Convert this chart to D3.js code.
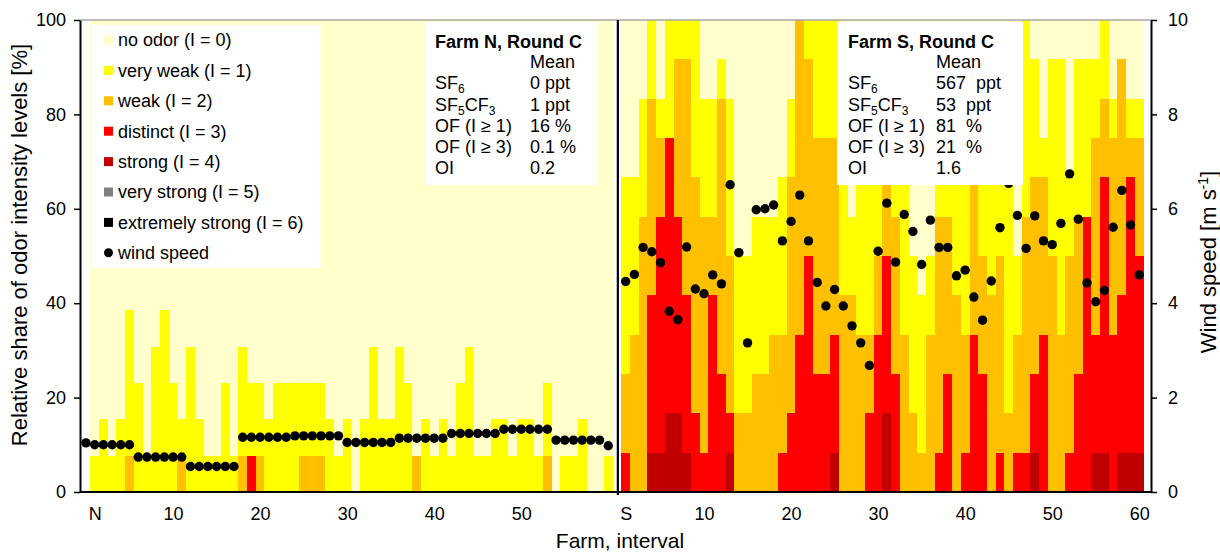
<!DOCTYPE html>
<html><head><meta charset="utf-8">
<script src="https://cdn.jsdelivr.net/npm/d3@7"></script>
<style>
body{margin:0;background:#fff}
svg{display:block}
text{font-family:"Liberation Sans",Arial,sans-serif;fill:#000}
</style>
</head><body>
<svg id="chart" width="1220" height="553"></svg>
<script>
// ---------- data ----------
const levelKeys   = ["extreme","veryStrong","strong","distinct","weak","veryWeak","none"];
const legendLabels = ["no odor (I = 0)","very weak (I = 1)","weak (I = 2)","distinct (I = 3)","strong (I = 4)","very strong (I = 5)","extremely strong (I = 6)"];
const legendColors = ["#FFFFCC","#FFFF00","#FFC000","#FF0000","#C00000","#808080","#000000"];
const levelColor = {none:"#FFFFCC",veryWeak:"#FFFF00",weak:"#FFC000",distinct:"#FF0000",strong:"#C00000",veryStrong:"#808080",extreme:"#000000"};

// Farm N, 13 observations per interval, intervals 1..60 (counts of panel answers)
const nTotal = 13;
const nVeryWeak = [1,2,1,2,4,3,1,4,5,3, 1,4,2,1,1,3,1,3,2,2, 2,3,3,3,2,2,2,2,1,2, 0,2,4,2,2,4,3,0,2,1, 2,1,3,4,1,1,2,2,1,2, 2,1,2,0,1,1,2,0,0,1];
const nWeak     = [0,0,0,0,1,0,0,0,0,0, 1,0,0,0,0,0,0,1,0,1, 0,0,0,0,1,1,1,0,0,0, 0,0,0,0,0,0,0,1,0,0, 0,0,0,0,0,0,0,0,0,0, 0,0,1,0,0,0,0,0,0,0];
const nDistinct = [0,0,0,0,0,0,0,0,0,0, 0,0,0,0,0,0,0,0,1,0, 0,0,0,0,0,0,0,0,0,0, 0,0,0,0,0,0,0,0,0,0, 0,0,0,0,0,0,0,0,0,0, 0,0,0,0,0,0,0,0,0,0];
// Farm N wind speed, intervals 0..60 [m/s]
const nWind = [1.04,1.00,1.00,1.00,1.00,1.00, 0.74,0.74,0.74,0.74,0.74,0.74, 0.54,0.54,0.54,0.54,0.54,0.54,
               1.16,1.16,1.16,1.16,1.16,1.16, 1.19,1.19,1.19,1.19,1.19,1.19, 1.05,1.05,1.05,1.05,1.05,1.05,
               1.14,1.14,1.14,1.14,1.14,1.14, 1.24,1.24,1.24,1.24,1.24,1.24, 1.33,1.33,1.33,1.33,1.33,1.33,
               1.10,1.10,1.10,1.10,1.10,1.10, 0.98];

// Farm S, 12 observations per interval, intervals 1..60
const sTotal = 12;
const sStrong   = [0,0,0,1,1,2,2,1,0,0, 0,0,1,0,0,0,0,0,0,0, 0,0,0,0,1,0,0,0,0,0, 2,0,0,0,0,0,0,0,0,0, 0,0,0,0,0,0,0,1,0,0, 0,0,0,0,1,1,0,1,1,1];
const sDistinct = [1,0,0,4,6,7,5,4,2,1, 5,3,1,0,0,0,0,0,1,2, 4,6,3,3,3,0,0,0,2,4, 4,3,0,0,0,0,1,3,0,1, 4,3,0,1,0,1,1,2,4,0, 0,1,3,7,3,7,4,4,7,5];
const sWeak     = [2,4,7,5,2,0,4,6,6,6, 2,7,4,2,2,3,3,4,3,6, 8,5,6,6,5,5,5,4,2,2, 2,4,4,2,1,4,6,4,5,3, 4,3,5,5,2,3,6,5,4,6, 4,5,4,0,5,2,5,6,1,3];
const sVeryWeak = [5,4,3,2,1,3,1,1,4,3, 3,1,4,4,4,4,4,3,4,2, 0,1,3,3,3,5,2,5,5,3, 2,2,5,4,4,2,2,2,4,4, 2,3,5,3,6,2,5,3,1,5, 7,2,4,4,2,2,1,0,1,1];
const sWind = [4.46,4.61,5.18,5.09,4.86,3.83,3.65,5.19,4.30,4.20, 4.60,4.41,6.51,5.07,3.16,5.98,6.00,6.08,5.32,5.73,
               6.29,5.32,4.44,3.94,4.29,3.94,3.52,3.16,2.68,5.10, 6.12,4.87,5.88,5.52,4.82,5.76,5.18,5.18,4.58,4.70,
               4.13,3.64,4.47,5.60,6.54,5.86,5.16,5.85,5.32,5.24, 5.69,6.74,5.78,4.43,4.03,4.27,5.61,6.39,5.66,4.60];

// category axis: N intervals 0..60 at slots 0..60, S intervals 1..60 at slots 62..121
const xTickSlots  = [1,10,20,30,40,50,62,71,81,91,101,111,121];
const xTickLabels = ["N","10","20","30","40","50","S","10","20","30","40","50","60"];
const yTicks = [0,20,40,60,80,100];
const windTicks = [0,2,4,6,8,10];

const boxN = {title:"Farm N, Round C", rows:[["SF","6",null,null,"0 ppt"],["SF","5","CF","3","1 ppt"],["OF (I ≥ 1)",null,null,null,"16 %"],["OF (I ≥ 3)",null,null,null,"0.1 %"],["OI",null,null,null,"0.2"]]};
const boxS = {title:"Farm S, Round C", rows:[["SF","6",null,null,"567  ppt"],["SF","5","CF","3","53  ppt"],["OF (I ≥ 1)",null,null,null,"81  %"],["OF (I ≥ 3)",null,null,null,"21  %"],["OI",null,null,null,"1.6"]]};

// ---------- build rows ----------
function rowsFor(vw, w, d, st, total, offset){
  return vw.map((v,i)=>{
    const s = st ? st[i] : 0;
    const none = total - v - w[i] - d[i] - s;
    const p = c => c/total*100;
    return {slot:i+offset, extreme:0, veryStrong:0, strong:p(s), distinct:p(d[i]), weak:p(w[i]), veryWeak:p(v), none:p(none)};
  });
}
const rowsN = rowsFor(nVeryWeak,nWeak,nDistinct,null,nTotal,1);
const rowsS = rowsFor(sVeryWeak,sWeak,sDistinct,sStrong,sTotal,62);
const rows = rowsN.concat(rowsS);

// ---------- scales ----------
const svg = d3.select("#chart");
const x = d3.scaleLinear().domain([-0.69,122.35]).range([80,1151]);
const y = d3.scaleLinear().domain([0,100]).range([492,20]);
const yW = d3.scaleLinear().domain([0,10]).range([492,20]);

// ---------- stacked step bars ----------
const stack = d3.stack().keys(levelKeys)(rows);
const gBars = svg.append("g").attr("shape-rendering","crispEdges");
stack.forEach(layer=>{
  gBars.append("g").attr("fill",levelColor[layer.key])
    .selectAll("rect").data(layer.filter(d=>d[1]-d[0]>0)).join("rect")
    .attr("x",d=>x(d.data.slot-0.5))
    .attr("width",d=>x(d.data.slot+0.5)-x(d.data.slot-0.5))
    .attr("y",d=>y(d[1]))
    .attr("height",d=>y(d[0])-y(d[1]));
});

// top border of plot area
svg.append("line").attr("x1",80).attr("x2",1151).attr("y1",20).attr("y2",20)
  .attr("stroke","#A6A6A6").attr("stroke-width",1.5);

// farm separator
svg.append("line").attr("x1",x(61.1)).attr("x2",x(61.1)).attr("y1",20).attr("y2",495)
  .attr("stroke","#000").attr("stroke-width",2.2);

// ---------- wind dots ----------
const windPts = nWind.map((v,i)=>({slot:i,v})).concat(sWind.map((v,i)=>({slot:62+i,v})));
svg.append("g").selectAll("circle").data(windPts).join("circle")
  .attr("cx",d=>x(d.slot)).attr("cy",d=>yW(d.v)).attr("r",4.7).attr("fill","#000");

// ---------- axes ----------
const axL = svg.append("g").attr("transform","translate(80,0)")
  .call(d3.axisLeft(y).tickValues(yTicks).tickSize(6).tickSizeOuter(0).tickPadding(8));
const axR = svg.append("g").attr("transform","translate(1151,0)")
  .call(d3.axisRight(yW).tickValues(windTicks).tickSize(6).tickSizeOuter(0).tickPadding(11));
const axB = svg.append("g").attr("transform","translate(0,492)")
  .call(d3.axisBottom(x).tickValues(xTickSlots).tickFormat((d,i)=>xTickLabels[i]).tickSize(0).tickSizeOuter(0).tickPadding(15));
[axL,axR,axB].forEach(a=>{
  a.selectAll("text").style("font-size","18px").style("font-family","'Liberation Sans',Arial,sans-serif").attr("fill","#000");
  a.selectAll("line").attr("stroke","#000").attr("stroke-width",1.5);
  a.select(".domain").attr("stroke","#000").attr("stroke-width",2);
});
axB.select(".domain").attr("d","M80,0H1151");

// axis titles
svg.append("text").attr("transform","translate(27,245) rotate(-90)").attr("text-anchor","middle")
  .style("font-size","22px").text("Relative share of odor intensity levels [%]");
svg.append("text").attr("x",620).attr("y",548).attr("text-anchor","middle")
  .style("font-size","21px").text("Farm, interval");
const tR = svg.append("text").attr("transform","translate(1216,262) rotate(-90)").attr("text-anchor","middle")
  .style("font-size","22px");
tR.append("tspan").text("Wind speed [m s");
tR.append("tspan").attr("dy",-8).style("font-size","14px").text("-1");
tR.append("tspan").attr("dy",8).text("]");

// ---------- legend ----------
const lg = svg.append("g");
lg.append("rect").attr("x",91.5).attr("y",25).attr("width",229).attr("height",243).attr("fill","#fff");
legendLabels.forEach((lab,i)=>{
  const cy = 40 + i*30.4;
  lg.append("rect").attr("x",104).attr("y",cy-4.5).attr("width",9).attr("height",9).attr("fill",legendColors[i]);
  lg.append("text").attr("x",118).attr("y",cy).attr("dy","0.35em").style("font-size","18px").text(lab);
});
{
  const cy = 40 + 7*30.4;
  lg.append("circle").attr("cx",108.5).attr("cy",cy).attr("r",4.5).attr("fill","#000");
  lg.append("text").attr("x",118).attr("y",cy).attr("dy","0.35em").style("font-size","18px").text("wind speed");
}

// ---------- info boxes ----------
function infoBox(b, bx, bw, tx, vx){
  const g = svg.append("g");
  g.append("rect").attr("x",bx).attr("y",22).attr("width",bw).attr("height",163).attr("fill","#fff");
  g.append("text").attr("x",tx).attr("y",42).attr("dy","0.35em").style("font-size","18px").style("font-weight","bold").text(b.title);
  g.append("text").attr("x",vx).attr("y",62).attr("dy","0.35em").style("font-size","18px").text("Mean");
  b.rows.forEach((r,i)=>{
    const cy = 83 + i*21.2;
    const t = g.append("text").attr("x",tx).attr("y",cy).attr("dy","0.35em").style("font-size","18px");
    t.append("tspan").text(r[0]);
    if(r[1]!==null){ t.append("tspan").attr("dy",4).style("font-size","12px").text(r[1]); }
    if(r[2]!==null){ t.append("tspan").attr("dy",-4).text(r[2]); t.append("tspan").attr("dy",4).style("font-size","12px").text(r[3]); }
    g.append("text").attr("x",vx).attr("y",cy).attr("dy","0.35em").style("font-size","18px").style("white-space","pre").text(r[4]);
  });
}
infoBox(boxN, 425, 172, 435, 530);
infoBox(boxS, 837, 186, 848, 936);
</script>
</body></html>
